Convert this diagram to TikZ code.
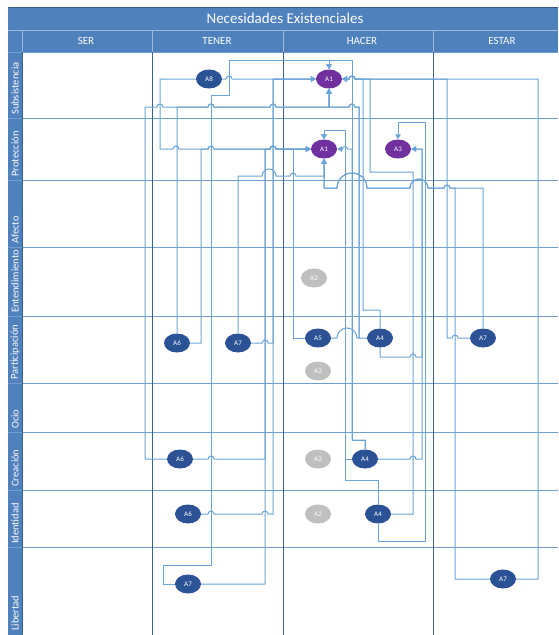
\documentclass[tikz,border=0pt]{standalone}
\usepackage{fontspec}
\setmainfont{Carlito}
\usepackage{tikz}
\usetikzlibrary{arrows.meta,shapes.geometric}
\definecolor{band}{RGB}{79,129,189}
\definecolor{rowrule}{RGB}{112,158,207}
\definecolor{colrule}{RGB}{58,96,145}
\definecolor{wire}{RGB}{106,163,215}
\definecolor{actblue}{RGB}{44,82,150}
\definecolor{actpurple}{RGB}{112,48,160}
\definecolor{actgray}{RGB}{191,191,191}
% line hops over a crossing wire (moving right / moving left)
\newcommand{\hopR}[3]{-- (#1-#3,#2) arc[start angle=180,end angle=0,radius=#3pt]}
\newcommand{\hopL}[3]{-- (#1+#3,#2) arc[start angle=0,end angle=180,radius=#3pt]}

\begin{document}
\begin{tikzpicture}[x=1pt,y=-1pt,font=\fontsize{7}{8}\selectfont,
  act/.style={ellipse,fill=actblue,text=white,inner sep=0pt,minimum width=26pt,minimum height=19pt},
  goal/.style={act,fill=actpurple},
  idle/.style={act,fill=actgray},
  arr/.style={draw=wire,line width=1pt,-{Triangle[length=5pt,width=5.5pt]}},
  rowlbl/.style={rotate=90,anchor=west,inner sep=0pt,text=white,font=\fontsize{10.5}{12}\selectfont},
  colhdr/.style={text=white,font=\fontsize{11}{13}\selectfont}]
\useasboundingbox (0,0) rectangle (558,635);

% Header band
\fill[band] (8,7) rectangle (558,52);
\draw[band!70!black,line width=0.6pt] (8,7) -- (558,7);
\draw[white!45!band,line width=0.8pt] (8,30) -- (558,30);
\foreach \x in {22,152,283,433} \draw[white!45!band,line width=0.8pt] (\x,30) -- (\x,52);
\node[colhdr,font=\fontsize{15}{17}\selectfont] (title) at (285,18.5) {Necesidades Existenciales};
\node[colhdr] (hser) at (86,41) {SER};
\node[colhdr] (hten) at (217,41) {TENER};
\node[colhdr] (hhac) at (362,41) {HACER};
\node[colhdr] (hest) at (502,41) {ESTAR};

% Row strip and grid
\fill[band] (8,52) rectangle (22,635);
\foreach \y in {52,118,180,247,316,383,432,490,547} \draw[rowrule,line width=0.8pt] (8,\y) -- (558,\y);
\foreach \x in {22,152,283,433} \draw[colrule,line width=0.7pt] (\x,52) -- (\x,635);
\foreach \t/\y [count=\i] in {Subsistencia/115,Protección/177,Afecto/244,Entendimiento/313,Participación/380,Ocio/429,Creación/487,Identidad/544,Libertad/631}
  \node[rowlbl] (row\i) at (15,\y) {\t};

% Actions
\node[act] (a8) at (209,79) {A8};
\node[goal] (a1s) at (329,79) {A1};
\node[goal] (a1p) at (324,149) {A1};
\node[goal] (a3) at (398,149) {A3};
\node[idle] (a2e) at (314,278) {A2};
\node[act] (a6p) at (177,343) {A6};
\node[act] (a7p) at (238,343) {A7};
\node[act] (a5) at (318,338) {A5};
\node[act] (a4p) at (380,338) {A4};
\node[act] (a7pe) at (483,338) {A7};
\node[idle] (a2p) at (318,371) {A2};
\node[act] (a6c) at (180,459) {A6};
\node[idle] (a2c) at (318,459) {A2};
\node[act] (a4c) at (365,459) {A4};
\node[act] (a6i) at (188,514) {A6};
\node[idle] (a2i) at (318,514) {A2};
\node[act] (a4i) at (378,514) {A4};
\node[act] (a7lt) at (188,584) {A7};
\node[act] (a7le) at (503,579) {A7};

% TENER links
\draw[arr] (a8.west) -- (160,79) -- (160,149) \hopR{176}{149}{3} \hopR{211}{149}{3} \hopR{273}{149}{3} -- (a1p.west);
\draw[arr] (a8.east) \hopR{229}{79}{3} -- (a1s.west);
\draw[arr] (a6p.north) -- (177,107) \hopR{211}{107}{3} \hopR{273}{107}{3} -| (a1s.south);
\draw[arr] (a6c.west) -- (145,459) -- (145,107) \hopR{160}{107}{3} \hopR{211}{107}{3} \hopR{273}{107}{3} -| (a1s.south);
\draw[arr] (a6p.east) -- (201,343) -- (201,149) \hopR{211}{149}{3} \hopR{273}{149}{3} -- (a1p.west);
\draw[arr] (a6c.east) \hopR{211}{459}{3} -- (265,459) -- (265,149) \hopR{273}{149}{3} -- (a1p.west);
\draw[arr] (a7lt.west) -- (163,584) -- (163,565) -- (211,565) -- (211,95) -- (229,95) -- (229,60) -| (a1s.north);
\draw[arr] (a7lt.east) -- (265,584) -- (265,149) \hopR{273}{149}{3} -- (a1p.west);
\draw[arr] (a6i.east) \hopR{211}{514}{3} \hopR{265}{514}{3} -- (273,514) -- (273,79) -- (a1s.west);
\draw[arr] (a7p.east) \hopR{265}{343}{3} -- (273,343) -- (273,79) -- (a1s.west);
\draw[arr] (a7p.north) -- (238,176) \hopR{269}{176}{7} \hopR{293}{176}{3} -| (a1p.south);

% HACER links
\draw[arr] (a5.west) -- (293,338) -- (293,149) -- (a1p.west);
\draw[arr] (a5.east) \hopR{347}{338}{10} -- (359,338) -- (359,107) \hopL{352}{107}{3} -| (a1s.south);
\draw[arr] (a4p.west) -- (359,338) -- (359,107) \hopL{352}{107}{3} -| (a1s.south);
\draw[arr] (a4p.north) -- (380,310) -- (363,310) -- (363,79) \hopL{352}{79}{3} -- (a1s.east);
\draw[arr] (a4p.south) -- (380,357) \hopR{413}{357}{3} -- (422,357) -- (422,149) -- (a3.east);
\draw[arr] (a4c.east) \hopR{413}{459}{3} -- (422,459) -- (422,149) -- (a3.east);
\draw[arr] (a4c.north) -- (365,440) -- (352,440) -- (352,60) -| (a1s.north);
\draw[arr] (a4c.north) -- (365,440) -- (352,440) -- (352,149) \hopL{345}{149}{2.5} -- (a1p.east);
\draw[arr] (a4c.west) -- (345,459) -- (345,130) -| (a1p.north);
\draw[arr] (a4i.north) -- (378,480) -- (345,480) -- (345,130) -| (a1p.north);
\draw[arr] (a4i.east) -- (413,514) -- (413,172) -- (370,172) -- (370,79) \hopL{352}{79}{3} -- (a1s.east);
\draw[arr] (a4i.south) -- (378,541) -- (425,541) -- (425,122) -| (a3.north);

% ESTAR links
\draw[arr] (a7pe.north) -- (483,188) \hopL{447}{188}{3} \hopL{419}{188}{9} \hopL{352}{188}{15} -| (a1p.south);
\draw[arr] (a7pe.west) \hopL{455}{338}{3} -- (447,338) -- (447,79) \hopL{352}{79}{3} -- (a1s.east);
\draw[arr] (a7le.west) -- (455,579) -- (455,188) \hopL{447}{188}{3} \hopL{419}{188}{9} \hopL{352}{188}{15} -| (a1p.south);
\draw[arr] (a7le.east) -- (538,579) -- (538,79) \hopL{352}{79}{3} -- (a1s.east);
\end{tikzpicture}
\end{document}
